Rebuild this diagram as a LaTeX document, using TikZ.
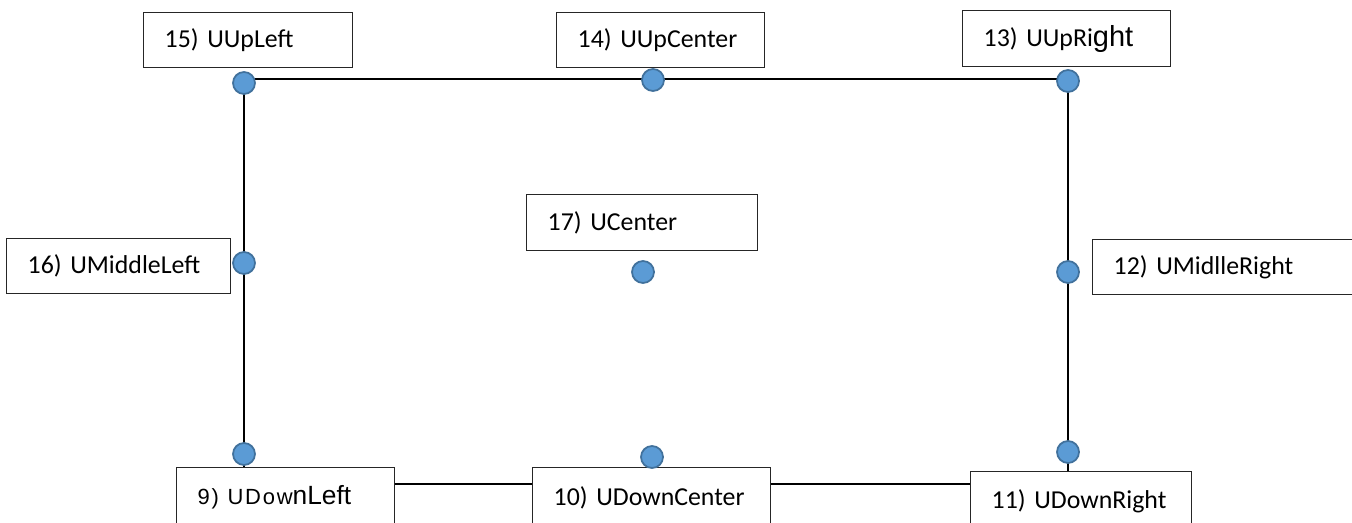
\documentclass[tikz,border=0pt]{standalone}
\usepackage{fontspec}
\setmainfont{Carlito}
\newfontfamily\arialfont{Liberation Sans}
\usepackage{tikz}
\usetikzlibrary{positioning}

\definecolor{dotblue}{RGB}{91,155,213}
\definecolor{dotedge}{RGB}{65,113,156}

\begin{document}
\begin{tikzpicture}[x=0.02cm, y=-0.02cm,
    every node/.style={font=\fontsize{14.7}{17}\selectfont},
    lbl/.style={draw=black!85, line width=0.8pt, fill=white, anchor=north west,
      align=left, inner xsep=0.42cm, inner ysep=0pt, minimum height=1.1cm},
    pt/.style={circle, draw=dotedge, line width=1pt, fill=dotblue,
      inner sep=0pt, minimum size=0.44cm},
    frame/.style={line width=1.5pt, black}]
  \useasboundingbox (0,0) rectangle (1352,523);

  % corners of the frame
  \coordinate (ul) at (244,79);
  \coordinate (ur) at (1068,79);
  \coordinate (lr) at (1068,484);
  \coordinate (ll) at (244,484);
  \draw[frame] (ul) -- (ur) -- (lr) -- (ll) -- cycle;

  % labels
  \node[lbl, text width=3.34cm] (b15) at (143,12) {15) UUpLeft};
  \node[lbl, text width=3.32cm] (b14) at (556,12) {14) UUpCenter};
  \node[lbl, text width=3.32cm, minimum height=1.12cm] (b13) at (962,10)
    {13) UUpRi{\arialfont\fontsize{16.5}{17}\selectfont ght}};
  \node[lbl, text width=3.64cm] (b16) at (6,238) {16) UMiddleLeft};
  \node[lbl, text width=3.78cm, minimum height=1.12cm] (b17) at (526,194) {17) UCenter};
  \node[lbl, text width=4.8cm] (b12) at (1092,239) {12) UMidlleRight};
  \node[lbl, text width=3.52cm, minimum height=1.2cm] (b9) at (176,467)
    {{\arialfont\addfontfeature{LetterSpace=8}\fontsize{12.5}{17}\selectfont 9) UDow}{\arialfont\fontsize{15}{17}\selectfont nLeft}};
  \node[lbl, text width=3.92cm, minimum height=1.2cm] (b10) at (532,467) {10) UDownCenter};
  \node[lbl, text width=3.58cm, minimum height=1.2cm] (b11) at (970,471) {11)~UDownRight};

  % points
  \node[pt] (d15) at (244,83) {};
  \node[pt] (d14) at (653,80) {};
  \node[pt] (d13) at (1068,81) {};
  \node[pt] (d16) at (244,263) {};
  \node[pt] (d17) at (643,272) {};
  \node[pt] (d12) at (1068,272) {};
  \node[pt] (d9)  at (244,454) {};
  \node[pt] (d10) at (652,457) {};
  \node[pt] (d11) at (1068,452) {};
\end{tikzpicture}
\end{document}
